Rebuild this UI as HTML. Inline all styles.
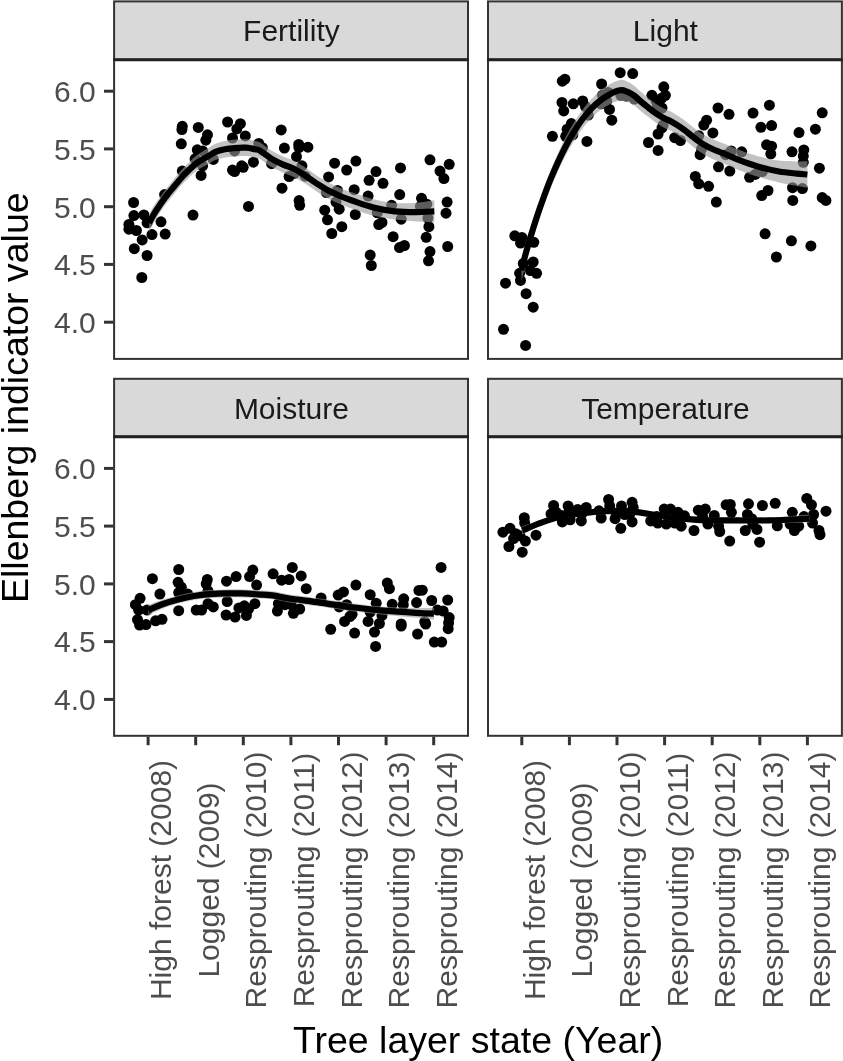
<!DOCTYPE html>
<html lang="en">
<head>
<meta charset="utf-8">
<title>Ellenberg indicator values</title>
<style>
html,body{margin:0;padding:0;background:#fff;}
svg{display:block;will-change:transform;transform:translateZ(0);}
text{font-family:"Liberation Sans",Arial,Helvetica,sans-serif;}
.tk{font-size:30px;fill:#4d4d4d;}
.st{font-size:30px;fill:#1a1a1a;}
.ti{font-size:37.5px;fill:#000;}
</style>
</head>
<body>
<svg width="843" height="1061" viewBox="0 0 843 1061">
<rect width="843" height="1061" fill="#fff"/>
<g>
<rect x="114.1" y="59.8" width="353.9" height="299.1" fill="#fff"/>
<g fill="#000"><circle cx="133.6" cy="202.5" r="5.5"/><circle cx="133.9" cy="215.6" r="5.5"/><circle cx="143.9" cy="214.9" r="5.5"/><circle cx="128.9" cy="224.5" r="5.5"/><circle cx="128.9" cy="229.2" r="5.5"/><circle cx="136.4" cy="230.5" r="5.5"/><circle cx="147.1" cy="222.8" r="5.5"/><circle cx="161.0" cy="221.8" r="5.5"/><circle cx="152.0" cy="234.6" r="5.5"/><circle cx="165.2" cy="234.1" r="5.5"/><circle cx="142.2" cy="239.9" r="5.5"/><circle cx="134.3" cy="248.7" r="5.5"/><circle cx="147.1" cy="255.5" r="5.5"/><circle cx="141.8" cy="277.5" r="5.5"/><circle cx="164.6" cy="194.6" r="5.5"/><circle cx="193.0" cy="215.1" r="5.5"/><circle cx="182.3" cy="171.1" r="5.5"/><circle cx="181.3" cy="143.8" r="5.5"/><circle cx="182.3" cy="126.3" r="5.5"/><circle cx="181.9" cy="129.5" r="5.5"/><circle cx="198.3" cy="127.4" r="5.5"/><circle cx="207.5" cy="134.8" r="5.5"/><circle cx="205.8" cy="140.2" r="5.5"/><circle cx="197.3" cy="149.8" r="5.5"/><circle cx="202.6" cy="150.9" r="5.5"/><circle cx="195.1" cy="158.8" r="5.5"/><circle cx="201.1" cy="175.4" r="5.5"/><circle cx="202.6" cy="165.8" r="5.5"/><circle cx="213.3" cy="159.4" r="5.5"/><circle cx="227.6" cy="122.0" r="5.5"/><circle cx="240.4" cy="123.7" r="5.5"/><circle cx="236.8" cy="128.9" r="5.5"/><circle cx="232.5" cy="138.0" r="5.5"/><circle cx="245.3" cy="135.9" r="5.5"/><circle cx="234.6" cy="150.9" r="5.5"/><circle cx="232.5" cy="170.1" r="5.5"/><circle cx="234.6" cy="171.6" r="5.5"/><circle cx="241.7" cy="165.8" r="5.5"/><circle cx="243.2" cy="167.3" r="5.5"/><circle cx="253.4" cy="162.2" r="5.5"/><circle cx="248.5" cy="206.4" r="5.5"/><circle cx="258.8" cy="143.4" r="5.5"/><circle cx="262.4" cy="147.7" r="5.5"/><circle cx="271.6" cy="163.7" r="5.5"/><circle cx="281.2" cy="129.9" r="5.5"/><circle cx="284.4" cy="148.1" r="5.5"/><circle cx="282.0" cy="188.2" r="5.5"/><circle cx="289.1" cy="176.5" r="5.5"/><circle cx="305.2" cy="176.2" r="5.5"/><circle cx="299.0" cy="147.5" r="5.5"/><circle cx="298.7" cy="144.5" r="5.5"/><circle cx="307.9" cy="147.2" r="5.5"/><circle cx="296.5" cy="156.6" r="5.5"/><circle cx="301.9" cy="165.8" r="5.5"/><circle cx="294.4" cy="173.3" r="5.5"/><circle cx="299.1" cy="200.6" r="5.5"/><circle cx="299.7" cy="205.3" r="5.5"/><circle cx="334.6" cy="163.2" r="5.5"/><circle cx="355.9" cy="161.1" r="5.5"/><circle cx="346.7" cy="170.1" r="5.5"/><circle cx="328.6" cy="176.9" r="5.5"/><circle cx="337.5" cy="190.4" r="5.5"/><circle cx="326.4" cy="192.5" r="5.5"/><circle cx="354.2" cy="189.7" r="5.5"/><circle cx="336.0" cy="202.1" r="5.5"/><circle cx="339.2" cy="209.2" r="5.5"/><circle cx="324.7" cy="210.2" r="5.5"/><circle cx="327.5" cy="219.8" r="5.5"/><circle cx="341.8" cy="226.7" r="5.5"/><circle cx="331.8" cy="233.5" r="5.5"/><circle cx="355.3" cy="214.5" r="5.5"/><circle cx="376.0" cy="171.6" r="5.5"/><circle cx="369.1" cy="180.3" r="5.5"/><circle cx="383.0" cy="183.3" r="5.5"/><circle cx="368.1" cy="196.1" r="5.5"/><circle cx="377.3" cy="212.8" r="5.5"/><circle cx="382.0" cy="222.4" r="5.5"/><circle cx="378.8" cy="224.5" r="5.5"/><circle cx="370.2" cy="255.1" r="5.5"/><circle cx="371.3" cy="265.5" r="5.5"/><circle cx="400.5" cy="167.9" r="5.5"/><circle cx="399.7" cy="194.6" r="5.5"/><circle cx="391.6" cy="205.3" r="5.5"/><circle cx="401.2" cy="219.2" r="5.5"/><circle cx="393.1" cy="236.7" r="5.5"/><circle cx="399.5" cy="247.6" r="5.5"/><circle cx="404.4" cy="245.5" r="5.5"/><circle cx="430.0" cy="159.8" r="5.5"/><circle cx="449.2" cy="164.3" r="5.5"/><circle cx="440.0" cy="171.1" r="5.5"/><circle cx="443.9" cy="178.6" r="5.5"/><circle cx="421.5" cy="198.3" r="5.5"/><circle cx="426.8" cy="204.2" r="5.5"/><circle cx="420.4" cy="206.4" r="5.5"/><circle cx="447.1" cy="202.1" r="5.5"/><circle cx="446.0" cy="213.2" r="5.5"/><circle cx="427.9" cy="218.1" r="5.5"/><circle cx="428.9" cy="226.7" r="5.5"/><circle cx="426.2" cy="237.3" r="5.5"/><circle cx="447.7" cy="246.5" r="5.5"/><circle cx="430.0" cy="251.6" r="5.5"/><circle cx="428.5" cy="260.8" r="5.5"/></g>
<path d="M149.0 214.1C150.2 212.1 153.7 206.2 156.5 202.1C159.3 197.9 162.8 193.1 165.6 189.4C168.4 185.7 170.3 183.5 173.3 179.9C176.3 176.3 179.7 172.1 183.4 168.1C187.2 164.1 191.7 159.3 195.8 156.0C199.9 152.7 204.7 150.4 208.0 148.3C211.3 146.2 212.6 144.9 215.4 143.7C218.2 142.5 222.0 141.5 225.0 140.9C228.0 140.2 230.0 139.9 233.6 139.7C237.2 139.4 242.8 139.0 246.4 139.3C250.0 139.5 252.7 140.4 255.0 140.9C257.3 141.4 257.3 140.8 260.0 142.4C262.7 143.9 267.5 148.1 271.3 150.4C275.1 152.7 278.8 154.4 282.6 156.2C286.4 157.9 290.1 158.8 293.9 160.7C297.7 162.7 301.4 165.1 305.2 167.6C309.0 170.0 312.8 173.0 316.6 175.5C320.4 177.9 324.0 180.1 327.9 182.2C331.8 184.3 336.0 186.2 340.0 187.9C344.0 189.6 346.4 190.5 352.0 192.3C357.6 194.2 366.3 197.4 373.4 199.2C380.5 201.0 387.7 202.4 394.8 203.0C401.9 203.6 409.5 203.3 416.1 202.8C422.7 202.4 431.3 200.7 434.3 200.3L434.3 222.3C431.3 222.1 422.7 221.8 416.1 221.4C409.5 220.9 401.9 220.5 394.8 219.6C387.7 218.6 380.5 217.4 373.4 215.6C366.3 213.8 357.6 210.6 352.0 208.7C346.4 206.7 344.0 205.8 340.0 204.1C336.0 202.4 331.8 200.5 327.9 198.4C324.0 196.3 320.4 194.0 316.6 191.5C312.8 189.1 309.0 186.1 305.2 183.6C301.4 181.2 297.7 178.7 293.9 176.9C290.1 175.0 286.4 174.1 282.6 172.4C278.8 170.8 275.1 169.1 271.3 166.8C267.5 164.6 262.7 160.6 260.0 159.0C257.3 157.5 257.3 158.2 255.0 157.7C252.7 157.2 250.0 156.3 246.4 156.1C242.8 156.0 237.2 156.3 233.6 156.5C230.0 156.8 228.0 156.9 225.0 157.5C222.0 158.1 218.2 159.0 215.4 160.1C212.6 161.2 211.3 162.4 208.0 164.3C204.7 166.2 199.9 168.2 195.8 171.4C191.7 174.5 187.2 179.2 183.4 183.1C179.7 187.0 176.3 191.3 173.3 194.9C170.3 198.5 168.4 200.6 165.6 204.4C162.8 208.2 159.3 213.4 156.5 217.9C153.7 222.5 150.2 229.6 149.0 231.9Z" fill="#999" fill-opacity="0.6"/>
<path d="M149.0 223.0C150.2 220.8 153.7 214.3 156.5 210.0C159.3 205.7 162.8 200.7 165.6 196.9C168.4 193.1 170.3 191.0 173.3 187.4C176.3 183.8 179.7 179.6 183.4 175.6C187.2 171.6 191.7 166.9 195.8 163.7C199.9 160.5 204.7 158.3 208.0 156.3C211.3 154.3 212.6 153.1 215.4 151.9C218.2 150.7 222.0 149.8 225.0 149.2C228.0 148.6 230.0 148.3 233.6 148.1C237.2 147.8 242.8 147.5 246.4 147.7C250.0 147.9 252.7 148.8 255.0 149.3C257.3 149.8 257.3 149.1 260.0 150.7C262.7 152.2 267.5 156.3 271.3 158.6C275.1 160.9 278.8 162.6 282.6 164.3C286.4 166.0 290.1 166.9 293.9 168.8C297.7 170.7 301.4 173.2 305.2 175.6C309.0 178.0 312.8 181.1 316.6 183.5C320.4 185.9 324.0 188.2 327.9 190.3C331.8 192.4 336.0 194.3 340.0 196.0C344.0 197.7 346.4 198.6 352.0 200.5C357.6 202.4 366.3 205.6 373.4 207.4C380.5 209.2 387.7 210.5 394.8 211.3C401.9 212.1 409.5 212.1 416.1 212.1C422.7 212.1 431.3 211.4 434.3 211.3" fill="none" stroke="#000" stroke-width="6.2" stroke-linejoin="round"/>
<rect x="114.1" y="1.4" width="353.9" height="58.4" fill="#d9d9d9" stroke="#333" stroke-width="2"/>
<text class="st" x="291.4" y="41.2" text-anchor="middle">Fertility</text>
<rect x="114.1" y="59.8" width="353.9" height="299.1" fill="none" stroke="#333" stroke-width="2"/>
<line x1="113.1" y1="59.8" x2="469.0" y2="59.8" stroke="#222" stroke-width="3"/>
</g>
<g>
<rect x="488.0" y="59.8" width="353.9" height="299.1" fill="#fff"/>
<g fill="#000"><circle cx="503.5" cy="329.3" r="5.5"/><circle cx="525.6" cy="345.4" r="5.5"/><circle cx="505.5" cy="283.2" r="5.5"/><circle cx="526.1" cy="293.7" r="5.5"/><circle cx="533.2" cy="307.2" r="5.5"/><circle cx="519.6" cy="273.3" r="5.5"/><circle cx="520.5" cy="280.4" r="5.5"/><circle cx="530.4" cy="270.5" r="5.5"/><circle cx="536.6" cy="273.3" r="5.5"/><circle cx="533.2" cy="262.0" r="5.5"/><circle cx="523.3" cy="263.4" r="5.5"/><circle cx="514.8" cy="235.8" r="5.5"/><circle cx="521.9" cy="237.5" r="5.5"/><circle cx="520.5" cy="243.1" r="5.5"/><circle cx="533.8" cy="242.3" r="5.5"/><circle cx="552.4" cy="136.3" r="5.5"/><circle cx="562.3" cy="81.2" r="5.5"/><circle cx="564.9" cy="79.2" r="5.5"/><circle cx="562.0" cy="102.4" r="5.5"/><circle cx="563.7" cy="110.9" r="5.5"/><circle cx="573.3" cy="103.8" r="5.5"/><circle cx="582.7" cy="101.0" r="5.5"/><circle cx="571.4" cy="123.6" r="5.5"/><circle cx="567.1" cy="129.2" r="5.5"/><circle cx="565.7" cy="136.3" r="5.5"/><circle cx="572.8" cy="134.9" r="5.5"/><circle cx="586.9" cy="141.4" r="5.5"/><circle cx="588.3" cy="115.1" r="5.5"/><circle cx="585.5" cy="106.6" r="5.5"/><circle cx="601.6" cy="84.0" r="5.5"/><circle cx="620.2" cy="72.7" r="5.5"/><circle cx="632.7" cy="73.6" r="5.5"/><circle cx="602.4" cy="95.3" r="5.5"/><circle cx="608.1" cy="92.5" r="5.5"/><circle cx="601.0" cy="103.8" r="5.5"/><circle cx="606.7" cy="101.0" r="5.5"/><circle cx="609.5" cy="109.4" r="5.5"/><circle cx="611.8" cy="120.2" r="5.5"/><circle cx="620.8" cy="95.3" r="5.5"/><circle cx="626.5" cy="96.2" r="5.5"/><circle cx="634.4" cy="99.0" r="5.5"/><circle cx="651.9" cy="95.3" r="5.5"/><circle cx="663.8" cy="86.8" r="5.5"/><circle cx="661.8" cy="98.1" r="5.5"/><circle cx="656.1" cy="101.0" r="5.5"/><circle cx="657.5" cy="105.2" r="5.5"/><circle cx="663.2" cy="125.0" r="5.5"/><circle cx="658.1" cy="134.0" r="5.5"/><circle cx="648.5" cy="142.5" r="5.5"/><circle cx="658.1" cy="150.4" r="5.5"/><circle cx="665.4" cy="95.3" r="5.5"/><circle cx="662.0" cy="108.0" r="5.5"/><circle cx="662.0" cy="127.8" r="5.5"/><circle cx="674.7" cy="137.7" r="5.5"/><circle cx="680.4" cy="140.5" r="5.5"/><circle cx="718.0" cy="108.0" r="5.5"/><circle cx="729.0" cy="114.3" r="5.5"/><circle cx="706.6" cy="120.2" r="5.5"/><circle cx="703.8" cy="125.0" r="5.5"/><circle cx="712.9" cy="132.9" r="5.5"/><circle cx="698.7" cy="135.7" r="5.5"/><circle cx="700.1" cy="154.7" r="5.5"/><circle cx="701.6" cy="149.0" r="5.5"/><circle cx="695.3" cy="176.4" r="5.5"/><circle cx="698.7" cy="183.8" r="5.5"/><circle cx="708.6" cy="186.3" r="5.5"/><circle cx="718.5" cy="166.8" r="5.5"/><circle cx="729.8" cy="171.0" r="5.5"/><circle cx="716.3" cy="202.1" r="5.5"/><circle cx="725.6" cy="154.7" r="5.5"/><circle cx="731.2" cy="151.0" r="5.5"/><circle cx="741.7" cy="151.8" r="5.5"/><circle cx="753.0" cy="113.1" r="5.5"/><circle cx="769.4" cy="105.2" r="5.5"/><circle cx="760.9" cy="127.3" r="5.5"/><circle cx="771.6" cy="125.6" r="5.5"/><circle cx="766.6" cy="144.8" r="5.5"/><circle cx="771.6" cy="146.2" r="5.5"/><circle cx="770.8" cy="153.8" r="5.5"/><circle cx="749.6" cy="177.3" r="5.5"/><circle cx="755.2" cy="174.4" r="5.5"/><circle cx="762.3" cy="171.6" r="5.5"/><circle cx="768.0" cy="190.5" r="5.5"/><circle cx="761.7" cy="195.6" r="5.5"/><circle cx="765.1" cy="233.8" r="5.5"/><circle cx="776.4" cy="257.0" r="5.5"/><circle cx="791.4" cy="240.8" r="5.5"/><circle cx="810.9" cy="245.9" r="5.5"/><circle cx="799.0" cy="132.6" r="5.5"/><circle cx="792.0" cy="151.8" r="5.5"/><circle cx="803.8" cy="149.9" r="5.5"/><circle cx="803.3" cy="156.1" r="5.5"/><circle cx="803.3" cy="162.3" r="5.5"/><circle cx="792.5" cy="187.7" r="5.5"/><circle cx="802.4" cy="188.6" r="5.5"/><circle cx="792.8" cy="200.4" r="5.5"/><circle cx="822.2" cy="112.8" r="5.5"/><circle cx="815.4" cy="129.2" r="5.5"/><circle cx="819.4" cy="168.2" r="5.5"/><circle cx="822.2" cy="197.6" r="5.5"/><circle cx="825.9" cy="200.4" r="5.5"/></g>
<path d="M521.5 259.6C522.2 256.6 524.4 247.7 526.0 242.0C527.6 236.4 529.2 231.4 531.0 225.6C532.8 219.7 535.0 213.0 537.0 207.1C539.0 201.1 540.8 195.9 543.0 190.0C545.2 184.1 547.5 177.9 550.0 171.7C552.5 165.5 555.3 158.9 558.0 153.0C560.7 147.1 563.2 141.9 566.0 136.5C568.8 131.1 571.8 125.8 575.0 120.8C578.2 115.8 581.3 111.0 585.0 106.5C588.7 101.9 593.0 97.0 597.0 93.4C601.0 89.8 605.2 86.9 609.0 84.7C612.8 82.5 617.0 80.5 620.0 80.0C623.0 79.5 624.7 80.6 627.1 81.5C629.5 82.5 631.8 83.9 634.2 85.7C636.6 87.5 639.0 90.3 641.4 92.3C643.8 94.4 646.1 96.4 648.5 98.3C650.9 100.2 653.2 102.1 655.6 103.8C658.0 105.4 660.3 106.8 662.7 108.0C665.1 109.2 667.4 109.9 669.8 111.1C672.2 112.3 674.5 113.7 676.9 115.2C679.3 116.7 681.7 118.4 684.1 120.1C686.5 121.9 688.8 123.9 691.2 125.8C693.6 127.6 695.9 129.6 698.3 131.2C700.7 132.8 703.0 134.2 705.4 135.5C707.8 136.9 710.1 138.0 712.5 139.1C714.9 140.2 717.2 141.1 719.6 142.0C722.0 142.9 723.4 143.4 726.8 144.7C730.2 146.1 736.1 148.7 740.0 150.2C743.9 151.7 746.5 152.6 750.0 153.7C753.5 154.8 756.4 155.8 761.2 157.0C766.0 158.1 773.1 159.8 779.0 160.6C784.9 161.3 792.1 161.3 796.8 161.4C801.5 161.5 805.6 161.2 807.4 161.2L807.4 187.8C805.6 187.5 801.5 186.7 796.8 185.8C792.1 184.9 784.9 183.8 779.0 182.4C773.1 181.1 766.0 179.2 761.2 177.8C756.4 176.5 753.5 175.5 750.0 174.3C746.5 173.1 743.9 172.2 740.0 170.6C736.1 169.0 730.2 166.3 726.8 164.9C723.4 163.4 722.0 163.0 719.6 162.0C717.2 161.0 714.9 160.0 712.5 158.9C710.1 157.8 707.8 156.6 705.4 155.3C703.0 153.9 700.7 152.5 698.3 150.8C695.9 149.1 693.6 147.1 691.2 145.2C688.8 143.3 686.5 141.3 684.1 139.5C681.7 137.7 679.3 136.0 676.9 134.4C674.5 132.9 672.2 131.5 669.8 130.3C667.4 129.0 665.1 128.3 662.7 127.0C660.3 125.7 658.0 124.3 655.6 122.6C653.2 121.0 650.9 119.0 648.5 117.1C646.1 115.3 643.8 113.6 641.4 111.7C639.0 109.7 636.6 107.1 634.2 105.5C631.8 103.8 629.5 102.5 627.1 101.7C624.7 100.9 623.0 100.1 620.0 100.6C617.0 101.1 612.8 102.7 609.0 104.7C605.2 106.7 601.0 109.3 597.0 112.8C593.0 116.2 588.7 120.9 585.0 125.3C581.3 129.8 578.2 134.5 575.0 139.4C571.8 144.3 568.8 149.6 566.0 154.9C563.2 160.2 560.7 165.4 558.0 171.2C555.3 177.0 552.5 183.5 550.0 189.7C547.5 195.9 545.2 202.4 543.0 208.4C540.8 214.5 539.0 219.8 537.0 225.9C535.0 232.1 532.8 239.3 531.0 245.4C529.2 251.6 527.6 257.0 526.0 263.0C524.4 269.0 522.2 278.4 521.5 281.4Z" fill="#999" fill-opacity="0.6"/>
<path d="M521.5 270.5C522.2 267.5 524.4 258.3 526.0 252.5C527.6 246.7 529.2 241.5 531.0 235.5C532.8 229.5 535.0 222.6 537.0 216.5C539.0 210.4 540.8 205.2 543.0 199.2C545.2 193.2 547.5 186.9 550.0 180.7C552.5 174.5 555.3 167.9 558.0 162.1C560.7 156.3 563.2 151.0 566.0 145.7C568.8 140.4 571.8 135.1 575.0 130.1C578.2 125.1 581.3 120.4 585.0 115.9C588.7 111.4 593.0 106.6 597.0 103.1C601.0 99.6 605.2 96.8 609.0 94.7C612.8 92.6 617.0 90.8 620.0 90.3C623.0 89.8 624.7 90.7 627.1 91.6C629.5 92.5 631.8 93.9 634.2 95.6C636.6 97.3 639.0 100.0 641.4 102.0C643.8 104.0 646.1 105.8 648.5 107.7C650.9 109.6 653.2 111.6 655.6 113.2C658.0 114.8 660.3 116.2 662.7 117.5C665.1 118.8 667.4 119.5 669.8 120.7C672.2 121.9 674.5 123.3 676.9 124.8C679.3 126.3 681.7 128.0 684.1 129.8C686.5 131.6 688.8 133.6 691.2 135.5C693.6 137.4 695.9 139.3 698.3 141.0C700.7 142.7 703.0 144.1 705.4 145.4C707.8 146.7 710.1 147.9 712.5 149.0C714.9 150.1 717.2 151.0 719.6 152.0C722.0 153.0 723.4 153.4 726.8 154.8C730.2 156.2 736.1 158.9 740.0 160.4C743.9 161.9 746.5 162.8 750.0 164.0C753.5 165.2 756.4 166.2 761.2 167.4C766.0 168.7 773.1 170.5 779.0 171.5C784.9 172.5 792.1 173.1 796.8 173.6C801.5 174.1 805.6 174.3 807.4 174.5" fill="none" stroke="#000" stroke-width="6.2" stroke-linejoin="round"/>
<rect x="488.0" y="1.4" width="353.9" height="58.4" fill="#d9d9d9" stroke="#333" stroke-width="2"/>
<text class="st" x="665.4" y="41.2" text-anchor="middle">Light</text>
<rect x="488.0" y="59.8" width="353.9" height="299.1" fill="none" stroke="#333" stroke-width="2"/>
<line x1="487.0" y1="59.8" x2="842.9" y2="59.8" stroke="#222" stroke-width="3"/>
</g>
<line x1="104.0" y1="91.2" x2="113.3" y2="91.2" stroke="#333" stroke-width="3"/><text class="tk" x="95.8" y="102.0" text-anchor="end">6.0</text>
<line x1="104.0" y1="148.9" x2="113.3" y2="148.9" stroke="#333" stroke-width="3"/><text class="tk" x="95.8" y="159.8" text-anchor="end">5.5</text>
<line x1="104.0" y1="206.7" x2="113.3" y2="206.7" stroke="#333" stroke-width="3"/><text class="tk" x="95.8" y="217.5" text-anchor="end">5.0</text>
<line x1="104.0" y1="264.4" x2="113.3" y2="264.4" stroke="#333" stroke-width="3"/><text class="tk" x="95.8" y="275.2" text-anchor="end">4.5</text>
<line x1="104.0" y1="322.2" x2="113.3" y2="322.2" stroke="#333" stroke-width="3"/><text class="tk" x="95.8" y="333.0" text-anchor="end">4.0</text>
<g>
<rect x="114.1" y="436.8" width="353.9" height="299.0" fill="#fff"/>
<g fill="#000"><circle cx="152.4" cy="578.7" r="5.5"/><circle cx="140.1" cy="598.3" r="5.5"/><circle cx="135.4" cy="604.7" r="5.5"/><circle cx="138.6" cy="610.1" r="5.5"/><circle cx="147.1" cy="610.1" r="5.5"/><circle cx="137.5" cy="619.7" r="5.5"/><circle cx="139.6" cy="625.0" r="5.5"/><circle cx="146.0" cy="624.6" r="5.5"/><circle cx="155.6" cy="620.8" r="5.5"/><circle cx="162.0" cy="619.3" r="5.5"/><circle cx="159.9" cy="594.1" r="5.5"/><circle cx="178.7" cy="569.5" r="5.5"/><circle cx="178.1" cy="582.3" r="5.5"/><circle cx="181.3" cy="587.2" r="5.5"/><circle cx="178.7" cy="592.6" r="5.5"/><circle cx="187.7" cy="594.1" r="5.5"/><circle cx="178.7" cy="610.7" r="5.5"/><circle cx="196.2" cy="610.1" r="5.5"/><circle cx="201.6" cy="610.1" r="5.5"/><circle cx="207.3" cy="579.5" r="5.5"/><circle cx="206.2" cy="583.8" r="5.5"/><circle cx="208.0" cy="590.9" r="5.5"/><circle cx="208.0" cy="603.7" r="5.5"/><circle cx="213.3" cy="606.9" r="5.5"/><circle cx="226.5" cy="581.2" r="5.5"/><circle cx="236.1" cy="576.6" r="5.5"/><circle cx="227.2" cy="601.5" r="5.5"/><circle cx="226.1" cy="615.0" r="5.5"/><circle cx="235.1" cy="617.1" r="5.5"/><circle cx="238.9" cy="607.9" r="5.5"/><circle cx="246.4" cy="615.4" r="5.5"/><circle cx="248.5" cy="609.0" r="5.5"/><circle cx="244.3" cy="605.8" r="5.5"/><circle cx="254.9" cy="603.7" r="5.5"/><circle cx="252.8" cy="570.1" r="5.5"/><circle cx="249.6" cy="576.6" r="5.5"/><circle cx="256.6" cy="585.1" r="5.5"/><circle cx="273.1" cy="573.8" r="5.5"/><circle cx="281.6" cy="580.2" r="5.5"/><circle cx="289.1" cy="579.5" r="5.5"/><circle cx="292.3" cy="567.4" r="5.5"/><circle cx="277.4" cy="611.1" r="5.5"/><circle cx="278.4" cy="603.7" r="5.5"/><circle cx="284.8" cy="604.7" r="5.5"/><circle cx="293.4" cy="613.3" r="5.5"/><circle cx="291.2" cy="604.7" r="5.5"/><circle cx="301.2" cy="575.9" r="5.5"/><circle cx="306.2" cy="588.7" r="5.5"/><circle cx="299.7" cy="609.0" r="5.5"/><circle cx="321.1" cy="597.9" r="5.5"/><circle cx="330.7" cy="629.3" r="5.5"/><circle cx="338.2" cy="595.1" r="5.5"/><circle cx="343.5" cy="591.9" r="5.5"/><circle cx="339.2" cy="606.9" r="5.5"/><circle cx="346.7" cy="604.7" r="5.5"/><circle cx="344.6" cy="621.4" r="5.5"/><circle cx="349.9" cy="616.5" r="5.5"/><circle cx="352.1" cy="614.3" r="5.5"/><circle cx="355.9" cy="585.1" r="5.5"/><circle cx="354.6" cy="633.1" r="5.5"/><circle cx="370.2" cy="594.7" r="5.5"/><circle cx="376.2" cy="603.2" r="5.5"/><circle cx="370.2" cy="612.2" r="5.5"/><circle cx="368.1" cy="621.4" r="5.5"/><circle cx="382.0" cy="615.4" r="5.5"/><circle cx="379.4" cy="623.5" r="5.5"/><circle cx="374.5" cy="632.1" r="5.5"/><circle cx="375.6" cy="646.4" r="5.5"/><circle cx="387.3" cy="583.0" r="5.5"/><circle cx="389.4" cy="588.7" r="5.5"/><circle cx="392.2" cy="604.3" r="5.5"/><circle cx="403.7" cy="598.8" r="5.5"/><circle cx="403.3" cy="604.7" r="5.5"/><circle cx="401.2" cy="624.0" r="5.5"/><circle cx="401.2" cy="626.1" r="5.5"/><circle cx="418.9" cy="590.4" r="5.5"/><circle cx="422.3" cy="590.2" r="5.5"/><circle cx="416.6" cy="602.6" r="5.5"/><circle cx="424.7" cy="621.8" r="5.5"/><circle cx="425.7" cy="624.0" r="5.5"/><circle cx="417.6" cy="634.0" r="5.5"/><circle cx="431.7" cy="600.5" r="5.5"/><circle cx="437.5" cy="610.1" r="5.5"/><circle cx="443.2" cy="611.1" r="5.5"/><circle cx="447.7" cy="600.0" r="5.5"/><circle cx="441.1" cy="567.4" r="5.5"/><circle cx="449.2" cy="617.6" r="5.5"/><circle cx="448.6" cy="622.9" r="5.5"/><circle cx="448.2" cy="628.7" r="5.5"/><circle cx="434.3" cy="642.1" r="5.5"/><circle cx="441.7" cy="642.1" r="5.5"/></g>
<path d="M148.2 605.1C150.7 604.2 158.0 601.2 163.0 599.6C168.0 597.9 172.9 596.7 178.1 595.4C183.3 594.1 188.7 592.9 194.0 592.0C199.3 591.1 204.8 590.5 210.1 590.1C215.4 589.7 220.7 589.5 226.0 589.4C231.3 589.3 236.8 589.2 242.1 589.4C247.4 589.5 252.7 589.9 258.0 590.3C263.4 590.7 269.2 590.9 274.2 591.6C279.2 592.3 280.4 593.1 288.0 594.3C295.6 595.5 309.3 597.1 320.0 598.6C330.7 600.1 341.4 601.9 352.1 603.3C362.8 604.6 373.4 605.9 384.1 606.7C394.8 607.5 407.8 607.8 416.1 608.0C424.4 608.1 430.9 607.7 433.9 607.7L433.9 619.7C430.9 619.4 424.4 618.7 416.1 617.8C407.8 617.0 394.8 615.8 384.1 614.7C373.4 613.6 362.8 612.6 352.1 611.3C341.4 609.9 330.7 608.1 320.0 606.6C309.3 605.1 295.6 603.5 288.0 602.3C280.4 601.1 279.2 600.3 274.2 599.6C269.2 598.9 263.4 598.7 258.0 598.3C252.7 597.9 247.4 597.5 242.1 597.4C236.8 597.2 231.3 597.3 226.0 597.4C220.7 597.5 215.4 597.7 210.1 598.1C204.8 598.5 199.3 599.1 194.0 600.0C188.7 600.9 183.3 602.0 178.1 603.4C172.9 604.8 168.0 606.5 163.0 608.4C158.0 610.4 150.7 614.0 148.2 615.1Z" fill="#999" fill-opacity="0.6"/>
<path d="M148.2 610.1C150.7 609.1 158.0 605.8 163.0 604.0C168.0 602.2 172.9 600.7 178.1 599.4C183.3 598.1 188.7 596.9 194.0 596.0C199.3 595.1 204.8 594.5 210.1 594.1C215.4 593.7 220.7 593.5 226.0 593.4C231.3 593.3 236.8 593.2 242.1 593.4C247.4 593.5 252.7 593.9 258.0 594.3C263.4 594.7 269.2 594.9 274.2 595.6C279.2 596.3 280.4 597.1 288.0 598.3C295.6 599.5 309.3 601.1 320.0 602.6C330.7 604.1 341.4 605.9 352.1 607.3C362.8 608.6 373.4 609.8 384.1 610.7C394.8 611.6 407.8 612.4 416.1 612.9C424.4 613.4 430.9 613.6 433.9 613.7" fill="none" stroke="#000" stroke-width="6.2" stroke-linejoin="round"/>
<rect x="114.1" y="378.8" width="353.9" height="58.0" fill="#d9d9d9" stroke="#333" stroke-width="2"/>
<text class="st" x="291.4" y="418.6" text-anchor="middle">Moisture</text>
<rect x="114.1" y="436.8" width="353.9" height="299.0" fill="none" stroke="#333" stroke-width="2"/>
<line x1="113.1" y1="436.8" x2="469.0" y2="436.8" stroke="#222" stroke-width="3"/>
</g>
<g>
<rect x="488.0" y="436.8" width="353.9" height="299.0" fill="#fff"/>
<g fill="#000"><circle cx="502.9" cy="532.2" r="5.5"/><circle cx="510.0" cy="528.3" r="5.5"/><circle cx="515.8" cy="533.7" r="5.5"/><circle cx="513.6" cy="538.6" r="5.5"/><circle cx="508.9" cy="546.5" r="5.5"/><circle cx="522.2" cy="552.2" r="5.5"/><circle cx="524.3" cy="517.7" r="5.5"/><circle cx="524.7" cy="523.0" r="5.5"/><circle cx="525.4" cy="541.1" r="5.5"/><circle cx="536.0" cy="535.2" r="5.5"/><circle cx="520.0" cy="535.8" r="5.5"/><circle cx="551.0" cy="514.0" r="5.5"/><circle cx="553.6" cy="505.5" r="5.5"/><circle cx="556.3" cy="512.3" r="5.5"/><circle cx="561.7" cy="515.5" r="5.5"/><circle cx="562.3" cy="521.9" r="5.5"/><circle cx="568.1" cy="505.9" r="5.5"/><circle cx="569.1" cy="512.3" r="5.5"/><circle cx="570.2" cy="519.8" r="5.5"/><circle cx="577.7" cy="509.5" r="5.5"/><circle cx="581.3" cy="520.9" r="5.5"/><circle cx="586.2" cy="507.4" r="5.5"/><circle cx="582.0" cy="513.4" r="5.5"/><circle cx="599.0" cy="510.8" r="5.5"/><circle cx="601.2" cy="518.1" r="5.5"/><circle cx="608.6" cy="499.5" r="5.5"/><circle cx="609.7" cy="505.9" r="5.5"/><circle cx="616.1" cy="513.4" r="5.5"/><circle cx="615.1" cy="518.7" r="5.5"/><circle cx="621.5" cy="505.9" r="5.5"/><circle cx="620.8" cy="528.3" r="5.5"/><circle cx="624.7" cy="514.5" r="5.5"/><circle cx="632.1" cy="502.3" r="5.5"/><circle cx="633.2" cy="507.4" r="5.5"/><circle cx="632.1" cy="521.9" r="5.5"/><circle cx="630.0" cy="513.4" r="5.5"/><circle cx="650.7" cy="520.9" r="5.5"/><circle cx="657.8" cy="523.0" r="5.5"/><circle cx="656.7" cy="516.6" r="5.5"/><circle cx="664.2" cy="509.1" r="5.5"/><circle cx="666.3" cy="514.5" r="5.5"/><circle cx="666.3" cy="524.1" r="5.5"/><circle cx="670.5" cy="509.1" r="5.5"/><circle cx="678.0" cy="512.3" r="5.5"/><circle cx="684.5" cy="515.8" r="5.5"/><circle cx="674.8" cy="523.0" r="5.5"/><circle cx="681.2" cy="526.2" r="5.5"/><circle cx="672.7" cy="515.9" r="5.5"/><circle cx="694.0" cy="530.5" r="5.5"/><circle cx="698.3" cy="510.2" r="5.5"/><circle cx="705.3" cy="509.1" r="5.5"/><circle cx="702.6" cy="516.6" r="5.5"/><circle cx="707.9" cy="524.1" r="5.5"/><circle cx="714.3" cy="515.5" r="5.5"/><circle cx="719.7" cy="531.5" r="5.5"/><circle cx="718.6" cy="526.2" r="5.5"/><circle cx="726.1" cy="504.8" r="5.5"/><circle cx="730.3" cy="504.4" r="5.5"/><circle cx="731.4" cy="512.3" r="5.5"/><circle cx="729.7" cy="541.1" r="5.5"/><circle cx="748.5" cy="503.8" r="5.5"/><circle cx="747.4" cy="514.5" r="5.5"/><circle cx="751.7" cy="518.7" r="5.5"/><circle cx="745.3" cy="530.5" r="5.5"/><circle cx="757.0" cy="529.4" r="5.5"/><circle cx="752.8" cy="524.1" r="5.5"/><circle cx="759.6" cy="542.2" r="5.5"/><circle cx="762.4" cy="505.5" r="5.5"/><circle cx="775.2" cy="503.3" r="5.5"/><circle cx="777.3" cy="525.8" r="5.5"/><circle cx="792.3" cy="512.3" r="5.5"/><circle cx="794.4" cy="530.5" r="5.5"/><circle cx="798.7" cy="526.2" r="5.5"/><circle cx="790.1" cy="524.1" r="5.5"/><circle cx="806.8" cy="498.4" r="5.5"/><circle cx="811.5" cy="504.8" r="5.5"/><circle cx="813.6" cy="514.5" r="5.5"/><circle cx="826.0" cy="511.2" r="5.5"/><circle cx="812.5" cy="523.0" r="5.5"/><circle cx="819.0" cy="530.5" r="5.5"/><circle cx="820.0" cy="534.7" r="5.5"/><circle cx="804.0" cy="516.6" r="5.5"/></g>
<path d="M522.2 526.3C525.4 525.2 534.6 522.0 541.4 519.8C548.1 517.6 555.6 514.8 562.7 513.2C569.8 511.6 577.0 511.0 584.1 510.2C591.2 509.4 598.3 508.7 605.4 508.4C612.5 508.1 619.7 508.0 626.8 508.4C633.9 508.8 641.3 510.0 648.2 511.0C655.1 512.0 662.1 513.6 668.0 514.4C673.9 515.2 677.3 515.4 683.4 515.9C689.5 516.4 697.6 517.1 704.7 517.4C711.8 517.7 715.4 517.6 726.1 517.6C736.8 517.6 754.9 518.1 768.8 517.6C782.7 517.1 802.5 515.1 809.3 514.6L809.3 522.8C802.5 522.9 782.7 523.1 768.8 523.2C754.9 523.3 736.8 523.2 726.1 523.2C715.4 523.2 711.8 523.3 704.7 523.0C697.6 522.7 689.5 522.0 683.4 521.5C677.3 521.0 673.9 520.8 668.0 520.0C662.1 519.2 655.1 517.6 648.2 516.6C641.3 515.6 633.9 514.4 626.8 514.0C619.7 513.6 612.5 513.7 605.4 514.0C598.3 514.3 591.2 515.0 584.1 515.8C577.0 516.6 569.8 517.2 562.7 518.8C555.6 520.4 548.1 522.8 541.4 525.4C534.6 528.0 525.4 533.1 522.2 534.7Z" fill="#999" fill-opacity="0.6"/>
<path d="M522.2 530.5C525.4 529.2 534.6 525.0 541.4 522.6C548.1 520.2 555.6 517.6 562.7 516.0C569.8 514.4 577.0 513.8 584.1 513.0C591.2 512.2 598.3 511.5 605.4 511.2C612.5 510.9 619.7 510.8 626.8 511.2C633.9 511.6 641.3 512.8 648.2 513.8C655.1 514.8 662.1 516.4 668.0 517.2C673.9 518.0 677.3 518.2 683.4 518.7C689.5 519.2 697.6 519.9 704.7 520.2C711.8 520.5 715.4 520.4 726.1 520.4C736.8 520.4 754.9 520.7 768.8 520.4C782.7 520.1 802.5 519.0 809.3 518.7" fill="none" stroke="#000" stroke-width="6.2" stroke-linejoin="round"/>
<rect x="488.0" y="378.8" width="353.9" height="58.0" fill="#d9d9d9" stroke="#333" stroke-width="2"/>
<text class="st" x="665.4" y="418.6" text-anchor="middle">Temperature</text>
<rect x="488.0" y="436.8" width="353.9" height="299.0" fill="none" stroke="#333" stroke-width="2"/>
<line x1="487.0" y1="436.8" x2="842.9" y2="436.8" stroke="#222" stroke-width="3"/>
</g>
<line x1="104.0" y1="468.4" x2="113.3" y2="468.4" stroke="#333" stroke-width="3"/><text class="tk" x="95.8" y="479.2" text-anchor="end">6.0</text>
<line x1="104.0" y1="526.1" x2="113.3" y2="526.1" stroke="#333" stroke-width="3"/><text class="tk" x="95.8" y="536.9" text-anchor="end">5.5</text>
<line x1="104.0" y1="583.9" x2="113.3" y2="583.9" stroke="#333" stroke-width="3"/><text class="tk" x="95.8" y="594.7" text-anchor="end">5.0</text>
<line x1="104.0" y1="641.6" x2="113.3" y2="641.6" stroke="#333" stroke-width="3"/><text class="tk" x="95.8" y="652.4" text-anchor="end">4.5</text>
<line x1="104.0" y1="699.4" x2="113.3" y2="699.4" stroke="#333" stroke-width="3"/><text class="tk" x="95.8" y="710.2" text-anchor="end">4.0</text>
<line x1="148.1" y1="736.8" x2="148.1" y2="745.2" stroke="#333" stroke-width="3"/><text class="tk" transform="translate(171.1,880) rotate(-90)" text-anchor="middle">High forest (2008)</text>
<line x1="195.7" y1="736.8" x2="195.7" y2="745.2" stroke="#333" stroke-width="3"/><text class="tk" transform="translate(218.7,880) rotate(-90)" text-anchor="middle">Logged (2009)</text>
<line x1="243.3" y1="736.8" x2="243.3" y2="745.2" stroke="#333" stroke-width="3"/><text class="tk" transform="translate(266.3,880) rotate(-90)" text-anchor="middle">Resprouting (2010)</text>
<line x1="290.9" y1="736.8" x2="290.9" y2="745.2" stroke="#333" stroke-width="3"/><text class="tk" transform="translate(313.9,880) rotate(-90)" text-anchor="middle">Resprouting (2011)</text>
<line x1="338.5" y1="736.8" x2="338.5" y2="745.2" stroke="#333" stroke-width="3"/><text class="tk" transform="translate(361.5,880) rotate(-90)" text-anchor="middle">Resprouting (2012)</text>
<line x1="386.1" y1="736.8" x2="386.1" y2="745.2" stroke="#333" stroke-width="3"/><text class="tk" transform="translate(409.1,880) rotate(-90)" text-anchor="middle">Resprouting (2013)</text>
<line x1="433.7" y1="736.8" x2="433.7" y2="745.2" stroke="#333" stroke-width="3"/><text class="tk" transform="translate(456.7,880) rotate(-90)" text-anchor="middle">Resprouting (2014)</text>
<line x1="521.8" y1="736.8" x2="521.8" y2="745.2" stroke="#333" stroke-width="3"/><text class="tk" transform="translate(544.8,880) rotate(-90)" text-anchor="middle">High forest (2008)</text>
<line x1="569.4" y1="736.8" x2="569.4" y2="745.2" stroke="#333" stroke-width="3"/><text class="tk" transform="translate(592.4,880) rotate(-90)" text-anchor="middle">Logged (2009)</text>
<line x1="617.0" y1="736.8" x2="617.0" y2="745.2" stroke="#333" stroke-width="3"/><text class="tk" transform="translate(640.0,880) rotate(-90)" text-anchor="middle">Resprouting (2010)</text>
<line x1="664.6" y1="736.8" x2="664.6" y2="745.2" stroke="#333" stroke-width="3"/><text class="tk" transform="translate(687.6,880) rotate(-90)" text-anchor="middle">Resprouting (2011)</text>
<line x1="712.2" y1="736.8" x2="712.2" y2="745.2" stroke="#333" stroke-width="3"/><text class="tk" transform="translate(735.2,880) rotate(-90)" text-anchor="middle">Resprouting (2012)</text>
<line x1="759.8" y1="736.8" x2="759.8" y2="745.2" stroke="#333" stroke-width="3"/><text class="tk" transform="translate(782.8,880) rotate(-90)" text-anchor="middle">Resprouting (2013)</text>
<line x1="807.4" y1="736.8" x2="807.4" y2="745.2" stroke="#333" stroke-width="3"/><text class="tk" transform="translate(830.4,880) rotate(-90)" text-anchor="middle">Resprouting (2014)</text>
<text class="ti" x="478.1" y="1053.3" text-anchor="middle">Tree layer state (Year)</text>
<text class="ti" transform="translate(28.3,397.7) rotate(-90)" text-anchor="middle">Ellenberg indicator value</text>
</svg>
</body>
</html>
